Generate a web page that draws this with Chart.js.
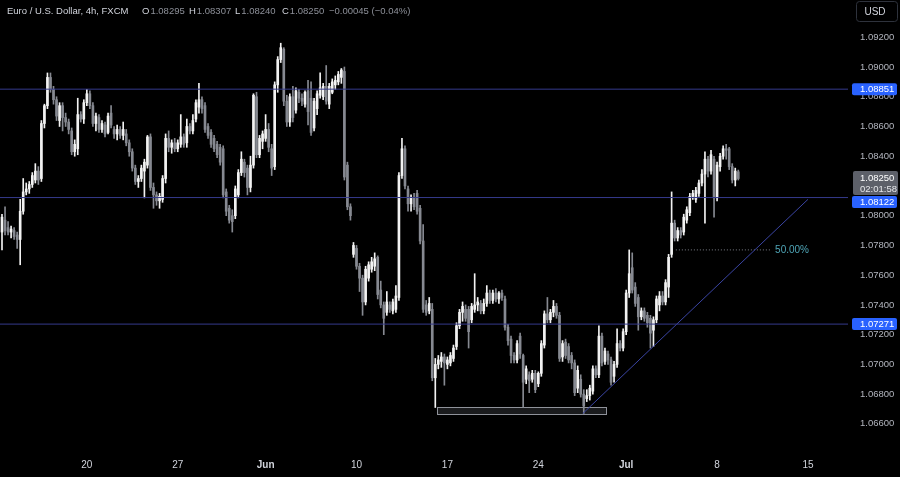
<!DOCTYPE html>
<html><head><meta charset="utf-8">
<script src="https://cdn.jsdelivr.net/npm/chart.js@4.4.1/dist/chart.umd.min.js"></script>
<style>
html,body{margin:0;padding:0;background:#000;}
canvas{display:block;}
</style></head><body>
<canvas id="c" width="900" height="477"></canvas>
<script>
// ---- data (EUR/USD 4h, FXCM) ----
const opens=[
1.0789,1.0797,1.0792,1.0789,1.0790,1.0787,1.0784,1.0803,1.0816,1.0818,
1.0821,1.0824,1.0830,1.0825,1.0862,1.0874,1.0893,1.0885,1.0878,1.0864,
1.0874,1.0866,1.0863,1.0857,1.0843,1.0845,1.0868,1.0865,1.0876,1.0882,
1.0874,1.0862,1.0866,1.0858,1.0861,1.0856,1.0869,1.0858,1.0855,1.0858,
1.0854,1.0855,1.0849,1.0843,1.0832,1.0823,1.0825,1.0830,1.0834,1.0853,
1.0819,1.0814,1.0810,1.0811,1.0825,1.0852,1.0846,1.0849,1.0845,1.0848,
1.0853,1.0849,1.0860,1.0857,1.0865,1.0873,1.0878,1.0874,1.0860,1.0856,
1.0852,1.0848,1.0846,1.0845,1.0816,1.0805,1.0800,1.0800,1.0814,1.0829,
1.0836,1.0832,1.0819,1.0834,1.0880,1.0841,1.0850,1.0852,1.0858,1.0845,
1.0833,1.0888,1.0905,1.0912,1.0877,1.0863,1.0880,1.0871,1.0883,1.0879,
1.0875,1.0884,1.0879,1.0859,1.0872,1.0881,1.0880,1.0887,1.0875,1.0883,
1.0888,1.0890,1.0893,1.0897,1.0834,1.0806,1.0774,1.0778,1.0766,1.0758,
1.0742,1.0758,1.0764,1.0766,1.0772,1.0750,1.0740,1.0735,1.0740,1.0736,
1.0737,1.0745,1.0827,1.0845,1.0818,1.0808,1.0812,1.0815,1.0805,1.0783,
1.0740,1.0736,1.0737,1.0691,1.0700,1.0702,1.0705,1.0700,1.0701,1.0704,
1.0712,1.0726,1.0735,1.0737,1.0737,1.0730,1.0737,1.0740,1.0741,1.0736,
1.0741,1.0748,1.0743,1.0748,1.0744,1.0748,1.0744,1.0725,1.0717,1.0706,
1.0703,1.0719,1.0706,1.0690,1.0693,1.0690,1.0694,1.0687,1.0694,1.0713,
1.0734,1.0730,1.0735,1.0739,1.0733,1.0705,1.0715,1.0712,1.0706,1.0701,
1.0684,1.0690,1.0680,1.0677,1.0679,1.0682,1.0697,1.0693,1.0719,1.0702,
1.0707,1.0703,1.0692,1.0700,1.0714,1.0711,1.0722,1.0748,1.0765,1.0752,
1.0745,1.0732,1.0736,1.0733,1.0731,1.0723,1.0730,1.0740,1.0746,1.0742,
1.0752,1.0774,1.0795,1.0785,1.0790,1.0789,1.0797,1.0802,1.0813,1.0811,
1.0815,1.0822,1.0828,1.0838,1.0830,1.0838,1.0812,1.0833,1.0840,1.0845,
1.0845,1.0833,1.0824,1.08295];
const highs=[
1.0801,1.0806,1.0796,1.0793,1.0792,1.0789,1.0811,1.0825,1.0822,1.0823,
1.0829,1.0835,1.0833,1.0864,1.0875,1.0896,1.0896,1.0887,1.0880,1.0876,
1.0876,1.0869,1.0865,1.0859,1.0851,1.0879,1.0870,1.0878,1.0885,1.0884,
1.0876,1.0869,1.0868,1.0864,1.0863,1.0869,1.0874,1.0860,1.0861,1.0860,
1.0863,1.0858,1.0851,1.0845,1.0834,1.0827,1.0834,1.0838,1.0854,1.0855,
1.0822,1.0816,1.0815,1.0827,1.0855,1.0857,1.0851,1.0852,1.0851,1.0868,
1.0855,1.0865,1.0862,1.0868,1.0878,1.0889,1.0880,1.0876,1.0862,1.0858,
1.0854,1.0850,1.0848,1.0847,1.0818,1.0807,1.0804,1.0820,1.0831,1.0843,
1.0838,1.0834,1.0840,1.0882,1.0883,1.0854,1.0857,1.0868,1.0862,1.0848,
1.0890,1.0907,1.0916,1.0913,1.0881,1.0882,1.0887,1.0886,1.0885,1.0882,
1.0884,1.0891,1.0890,1.0879,1.0884,1.0896,1.0889,1.0901,1.0889,1.0892,
1.0894,1.0897,1.0899,1.0900,1.0836,1.0808,1.0782,1.0780,1.0768,1.0760,
1.0766,1.0769,1.0772,1.0775,1.0773,1.0756,1.0742,1.0749,1.0742,1.0744,
1.0753,1.0829,1.0852,1.0847,1.0820,1.0814,1.0815,1.0817,1.0807,1.0794,
1.0743,1.0745,1.0741,1.0704,1.0706,1.0708,1.0707,1.0705,1.0708,1.0713,
1.0728,1.0737,1.0742,1.0740,1.0739,1.0741,1.0761,1.0745,1.0743,1.0744,
1.0753,1.0750,1.0750,1.0751,1.0749,1.0750,1.0746,1.0727,1.0719,1.0708,
1.0716,1.0721,1.0707,1.0699,1.0695,1.0696,1.0696,1.0695,1.0716,1.0736,
1.0745,1.0737,1.0743,1.0741,1.0735,1.0716,1.0717,1.0714,1.0708,1.0703,
1.0699,1.0693,1.0683,1.0683,1.0686,1.0699,1.0699,1.0726,1.0721,1.0711,
1.0709,1.0705,1.0702,1.0724,1.0716,1.0724,1.0750,1.0777,1.0775,1.0755,
1.0747,1.0738,1.0738,1.0735,1.0733,1.0732,1.0746,1.0749,1.0749,1.0757,
1.0774,1.0816,1.0797,1.0792,1.0792,1.0801,1.0806,1.0815,1.0817,1.0819,
1.0824,1.0831,1.0843,1.0840,1.0844,1.0840,1.0836,1.0842,1.0847,1.0848,
1.0846,1.0835,1.0832,1.08307];
const lows=[
1.0777,1.0787,1.0787,1.0785,1.0784,1.0778,1.0767,1.0801,1.0814,1.0815,
1.0819,1.0822,1.0821,1.0823,1.0859,1.0872,1.0883,1.0875,1.0864,1.0860,
1.0857,1.0860,1.0855,1.0841,1.0840,1.0841,1.0863,1.0862,1.0874,1.0872,
1.0860,1.0857,1.0856,1.0856,1.0853,1.0855,1.0859,1.0852,1.0851,1.0852,
1.0851,1.0847,1.0840,1.0830,1.0821,1.0819,1.0823,1.0812,1.0832,1.0817,
1.0805,1.0807,1.0805,1.0809,1.0822,1.0843,1.0842,1.0843,1.0843,1.0846,
1.0846,1.0846,1.0855,1.0855,1.0863,1.0869,1.0869,1.0856,1.0852,1.0846,
1.0843,1.0839,1.0834,1.0812,1.0800,1.0795,1.0789,1.0798,1.0812,1.0827,
1.0826,1.0814,1.0816,1.0832,1.0839,1.0839,1.0845,1.0850,1.0843,1.0827,
1.0831,1.0883,1.0903,1.0874,1.0860,1.0860,1.0863,1.0869,1.0876,1.0874,
1.0873,1.0861,1.0854,1.0857,1.0868,1.0879,1.0878,1.0875,1.0872,1.0882,
1.0885,1.0888,1.0889,1.0824,1.0804,1.0797,1.0772,1.0764,1.0749,1.0733,
1.0740,1.0756,1.0762,1.0763,1.0744,1.0738,1.0720,1.0733,1.0735,1.0734,
1.0735,1.0743,1.0825,1.0818,1.0803,1.0803,1.0804,1.0801,1.0781,1.0735,
1.0733,1.0734,1.0689,1.0671,1.0697,1.0698,1.0686,1.0697,1.0699,1.0702,
1.0710,1.0724,1.0729,1.0729,1.0711,1.0728,1.0735,1.0736,1.0734,1.0734,
1.0739,1.0741,1.0741,1.0742,1.0741,1.0743,1.0723,1.0713,1.0701,1.0701,
1.0701,1.0704,1.0671,1.0687,1.0681,1.0688,1.0681,1.0685,1.0692,1.0711,
1.0728,1.0728,1.0732,1.0731,1.0702,1.0702,1.0704,1.0701,1.0697,1.0679,
1.0681,1.0678,1.0667,1.0675,1.0676,1.0680,1.0691,1.0691,1.0699,1.0700,
1.0700,1.0686,1.0688,1.0698,1.0709,1.0709,1.0720,1.0745,1.0748,1.0739,
1.0723,1.0730,1.0729,1.0725,1.0711,1.0712,1.0728,1.0736,1.0740,1.0740,
1.0745,1.0772,1.0783,1.0783,1.0785,1.0787,1.0795,1.0800,1.0811,1.0809,
1.0813,1.0820,1.0795,1.0826,1.0828,1.0799,1.0810,1.0830,1.0838,1.0838,
1.0831,1.0822,1.0820,1.08240];
const closes=[
1.0799,1.0790,1.0789,1.0791,1.0786,1.0784,1.0803,1.0816,1.0818,1.0821,
1.0827,1.0830,1.0824,1.0862,1.0874,1.0893,1.0885,1.0878,1.0867,1.0874,
1.0866,1.0863,1.0858,1.0843,1.0848,1.0868,1.0865,1.0876,1.0882,1.0874,
1.0862,1.0867,1.0858,1.0862,1.0855,1.0867,1.0861,1.0855,1.0858,1.0854,
1.0858,1.0849,1.0843,1.0832,1.0823,1.0825,1.0832,1.0836,1.0853,1.0819,
1.0814,1.0810,1.0813,1.0825,1.0852,1.0846,1.0849,1.0845,1.0849,1.0853,
1.0848,1.0860,1.0857,1.0864,1.0876,1.0878,1.0872,1.0858,1.0854,1.0848,
1.0845,1.0841,1.0836,1.0814,1.0803,1.0797,1.0796,1.0818,1.0829,1.0838,
1.0829,1.0819,1.0834,1.0881,1.0841,1.0852,1.0855,1.0858,1.0846,1.0832,
1.0888,1.0905,1.0913,1.0877,1.0863,1.0880,1.0866,1.0884,1.0879,1.0877,
1.0883,1.0870,1.0856,1.0877,1.0882,1.0886,1.0887,1.0877,1.0887,1.0890,
1.0891,1.0895,1.0898,1.0826,1.0806,1.0800,1.0780,1.0766,1.0758,1.0742,
1.0764,1.0767,1.0769,1.0771,1.0747,1.0740,1.0731,1.0742,1.0737,1.0742,
1.0746,1.0827,1.0845,1.0820,1.0808,1.0812,1.0806,1.0803,1.0783,1.0737,
1.0735,1.0741,1.0691,1.0700,1.0703,1.0705,1.0701,1.0703,1.0706,1.0711,
1.0726,1.0735,1.0739,1.0731,1.0722,1.0739,1.0740,1.0742,1.0736,1.0741,
1.0748,1.0743,1.0748,1.0744,1.0748,1.0745,1.0725,1.0716,1.0706,1.0703,
1.0714,1.0707,1.0688,1.0697,1.0689,1.0694,1.0683,1.0694,1.0714,1.0734,
1.0730,1.0735,1.0739,1.0733,1.0704,1.0714,1.0706,1.0703,1.0701,1.0681,
1.0696,1.0680,1.0672,1.0679,1.0684,1.0697,1.0693,1.0719,1.0701,1.0709,
1.0703,1.0688,1.0700,1.0714,1.0711,1.0722,1.0748,1.0761,1.0750,1.0741,
1.0732,1.0736,1.0731,1.0728,1.0721,1.0730,1.0744,1.0746,1.0742,1.0755,
1.0772,1.0795,1.0785,1.0790,1.0787,1.0799,1.0804,1.0813,1.0815,1.0817,
1.0822,1.0828,1.0838,1.0830,1.0841,1.0812,1.0834,1.0840,1.0845,1.0844,
1.0833,1.0824,1.0830,1.08250];

// time axis: bar index of each label, and label text
const tickIndex=[28,58,87,117,147,177,206,236,266];
const tickLabels=['20','27','Jun','10','17','24','Jul','8','15'];
const monthLabels=['Jun','Jul'];
// price axis ticks
const priceTicks=[1.066,1.068,1.070,1.072,1.074,1.076,1.078,1.080,1.082,1.084,1.086,1.088,1.090,1.092];
// drawn levels and objects
const levels=[1.08851,1.08122,1.07271];
const trendStart={x:191.7,y:1.0667};
const trendEnd={x:266.0,y:1.0811};
const fibStart={x:222.4,y:1.0777};
const fibEnd={x:253.5,y:1.0777};
const fibText='50.00%';
const zoneBox={x0:143.6,x1:199.3,top:1.06713,bottom:1.06666};
const timerText='02:01:58';
const titleText='Euro / U.S. Dollar, 4h, FXCM';
const changeText='\u22120.00045 (\u22120.04%)';

const N=closes.length;
if(opens.length!==N||highs.length!==N||lows.length!==N) throw new Error('length mismatch '+opens.length+' '+highs.length+' '+lows.length+' '+N);

const X_MIN=-0.66, X_MAX=279.21, Y_MIN=1.064243, Y_MAX=1.094506;
const UP='#f2f2f2', DOWN='#868991';
const FONT='"Liberation Sans", Arial, sans-serif';

const idx=closes.map((_,i)=>i);
const candleColors=idx.map(i=>closes[i]>=opens[i]?UP:DOWN);
const bodyData=idx.map(i=>({x:i,y:[opens[i],closes[i]]}));
const wickData=idx.map(i=>({x:i,y:[lows[i],highs[i]]}));

const lineDs=(pts,color,extra)=>Object.assign({type:'line',data:pts,borderColor:color,borderWidth:1,pointRadius:0,fill:false,tension:0},extra||{});

const datasets=[];
levels.forEach(l=>datasets.push(lineDs([{x:X_MIN,y:l},{x:X_MAX,y:l}],'#353a8c')));
datasets.push(lineDs([trendStart,trendEnd],'#3a44a3'));
datasets.push(lineDs([fibStart,fibEnd],'#7c7f88',{borderDash:[1,2]}));
datasets.push({type:'bar',data:bodyData,backgroundColor:candleColors,barThickness:2,grouped:false,borderWidth:0});
datasets.push({type:'bar',data:wickData,backgroundColor:candleColors,barThickness:1,grouped:false,borderWidth:0});

function rrect(ctx,x,y,w,h,r){ctx.beginPath();ctx.moveTo(x+r,y);ctx.lineTo(x+w-r,y);ctx.quadraticCurveTo(x+w,y,x+w,y+r);ctx.lineTo(x+w,y+h-r);ctx.quadraticCurveTo(x+w,y+h,x+w-r,y+h);ctx.lineTo(x+r,y+h);ctx.quadraticCurveTo(x,y+h,x,y+h-r);ctx.lineTo(x,y+r);ctx.quadraticCurveTo(x,y,x+r,y);ctx.closePath();}

const overlay={
  id:'overlay',
  beforeDatasetsDraw(chart){
    const {ctx,scales:{x,y}}=chart;
    const x0=x.getPixelForValue(zoneBox.x0), x1=x.getPixelForValue(zoneBox.x1);
    const yt=y.getPixelForValue(zoneBox.top), yb=y.getPixelForValue(zoneBox.bottom);
    ctx.save();
    ctx.fillStyle='rgba(120,123,134,0.22)';
    ctx.fillRect(x0,yt,x1-x0,yb-yt);
    ctx.strokeStyle='#8f929a';ctx.lineWidth=1;
    ctx.strokeRect(Math.round(x0)+0.5,Math.round(yt)+0.5,Math.round(x1-x0),Math.round(yb-yt));
    ctx.restore();
  },
  afterDraw(chart){
    const {ctx,scales:{x,y}}=chart;
    ctx.save();
    // fib label
    ctx.font='10px '+FONT;ctx.textBaseline='middle';ctx.textAlign='left';
    ctx.fillStyle='#4fa6b8';
    ctx.fillText(fibText,x.getPixelForValue(fibEnd.x)+5,y.getPixelForValue(fibEnd.y));
    // current price box
    const last=closes[N-1];
    const yc=y.getPixelForValue(last);
    const gTop=yc-7.5, gH=24;
    ctx.fillStyle='#5d6069';
    rrect(ctx,853,gTop,45,gH,2);ctx.fill();
    ctx.font='9.5px '+FONT;
    ctx.fillStyle='#ffffff';ctx.fillText(last.toFixed(5),860,gTop+7.5);
    ctx.fillStyle='#e6e7ea';ctx.fillText(timerText,860,gTop+18);
    // level boxes
    levels.forEach(l=>{
      let cy=y.getPixelForValue(l);
      if(cy+6>gTop && cy-6<gTop+gH){cy=gTop+gH+1+6;}
      ctx.fillStyle='#2962ff';
      rrect(ctx,852,cy-6,45,12,2);ctx.fill();
      ctx.fillStyle='#ffffff';
      ctx.fillText(l.toFixed(5),860,cy+0.5);
    });
    // header
    ctx.font='9.5px '+FONT;ctx.textBaseline='middle';
    const hy=11;
    ctx.fillStyle='#d1d4dc';ctx.fillText(titleText,7,hy);
    const ohlc=[['O',opens[N-1],142],['H',highs[N-1],189],['L',lows[N-1],235],['C',closes[N-1],282]];
    ohlc.forEach(([k,v,px])=>{
      ctx.fillStyle='#d1d4dc';ctx.fillText(k,px,hy);
      const w=ctx.measureText(k).width;
      ctx.fillStyle='#8d9099';ctx.fillText(v.toFixed(5),px+w+1,hy);
    });
    ctx.fillStyle='#8d9099';ctx.fillText(changeText,329,hy);
    // USD button
    ctx.strokeStyle='#2e323c';ctx.lineWidth=1;
    rrect(ctx,856.5,1.5,41,20,3);ctx.stroke();
    ctx.fillStyle='#d1d4dc';ctx.textAlign='center';ctx.font='10px '+FONT;
    ctx.fillText('USD',875,12);
    ctx.restore();
  }
};

new Chart(document.getElementById('c'),{
  type:'bar',
  data:{datasets},
  options:{
    responsive:false,animation:false,events:[],devicePixelRatio:1,
    layout:{padding:0},
    plugins:{legend:{display:false},tooltip:{enabled:false}},
    scales:{
      x:{type:'linear',min:X_MIN,max:X_MAX,offset:false,
        grid:{display:false,drawTicks:false},border:{display:false},
        afterBuildTicks:s=>{s.ticks=tickIndex.map(v=>({value:v}));},
        afterFit:s=>{s.height=27;s.paddingLeft=0;s.paddingRight=0;},
        ticks:{autoSkip:false,maxRotation:0,minRotation:0,padding:9,color:'#d1d4dc',
          callback:(v,i)=>tickLabels[i],
          font:c=>({family:FONT,size:10,weight:(c.tick&&monthLabels.includes(tickLabels[tickIndex.indexOf(c.tick.value)]))?'bold':'normal'})}
      },
      y:{type:'linear',position:'right',min:Y_MIN,max:Y_MAX,
        grid:{display:false,drawTicks:false},border:{display:false},
        afterBuildTicks:s=>{s.ticks=priceTicks.map(v=>({value:v}));},
        afterFit:s=>{s.width=52;s.paddingTop=0;s.paddingBottom=0;},
        ticks:{padding:12,color:'#b2b5be',font:{family:FONT,size:9.5},callback:v=>Number(v).toFixed(5)}
      }
    }
  },
  plugins:[overlay]
});
</script>
</body></html>
